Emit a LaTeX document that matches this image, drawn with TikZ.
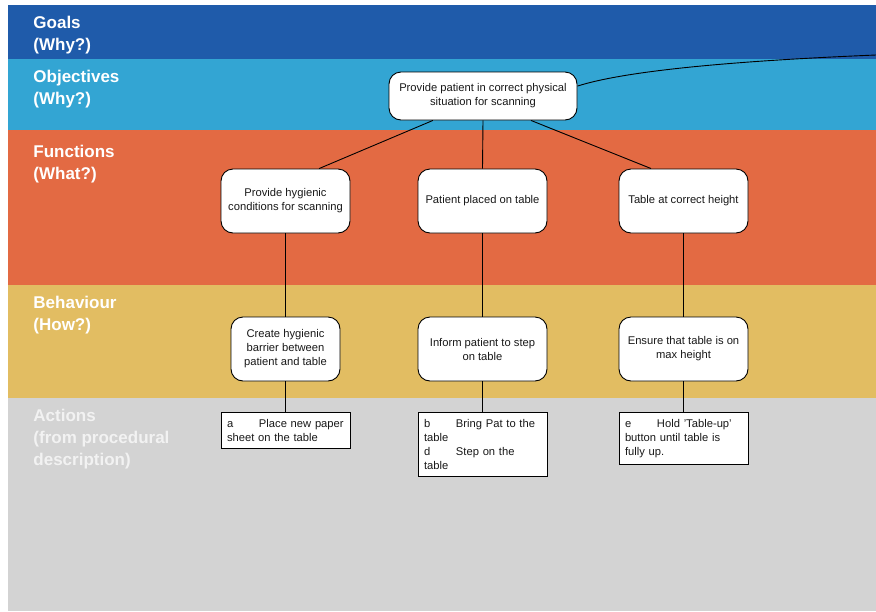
\documentclass[tikz,border=0pt]{standalone}
\usepackage{fontspec}
\setmainfont{Liberation Sans}
\usetikzlibrary{positioning}

\definecolor{goalblue}{HTML}{1F5BAA}
\definecolor{objblue}{HTML}{33A5D3}
\definecolor{funcorange}{HTML}{E36A43}
\definecolor{behavyellow}{HTML}{E2BD62}
\definecolor{actgrey}{HTML}{D3D3D3}

\newcommand{\acttab}[1]{\makebox[32pt][l]{#1}}

\tikzset{
  band/.style={anchor=north west, align=left, text=white, inner sep=0pt,
    font=\bfseries\fontsize{17}{22}\selectfont},
  box/.style={draw=black, fill=white, rounded corners=12pt, align=center,
    inner sep=2pt, text=black!90, font=\fontsize{11.2}{14}\selectfont},
  fwide/.style={minimum width=129pt, minimum height=64pt},
  act/.style={draw=black, fill=white, anchor=north, align=left, text width=117pt,
    inner xsep=6pt, inner ysep=7pt, text=black!90, font=\fontsize{11.2}{14}\selectfont},
}

\begin{document}
\begin{tikzpicture}[x=1pt,y=-1pt,line width=0.9pt]
\useasboundingbox (0,0) rectangle (876,611);

% Bands
\fill[goalblue] (8,5) rectangle (876,59);
\fill[objblue] (8,59) rectangle (876,130);
\fill[funcorange] (8,130) rectangle (876,285);
\fill[behavyellow] (8,285) rectangle (876,398);
\fill[actgrey] (8,398) rectangle (876,611);

% Band labels
\node[band] (lgoals) at (33,16) {Goals\\(Why?)};
\node[band] (lobj) at (33,70) {Objectives\\(Why?)};
\node[band] (lfunc) at (33,145) {Functions\\(What?)};
\node[band] (lbehav) at (33,296) {Behaviour\\(How?)};
\node[band, text=white!95!black] (lact) at (33,409) {Actions\\(from procedural\\description)};

% Objective
\node[box, minimum width=188pt, minimum height=48pt] (obj) at (483,96)
  {Provide patient in correct physical\\situation for scanning};

% Functions
\node[box, fwide] (fhyg) at (285.5,201) {Provide hygienic\\conditions for scanning};
\node[box, fwide] (fplace) at (482.5,201) {Patient placed on table};
\node[box, fwide] (fheight) at (683.5,201) {Table at correct height};

% Behaviour
\node[box, minimum width=109pt, minimum height=64pt] (bbarrier) at (285.5,349)
  {Create hygienic\\barrier between\\patient and table};
\node[box, fwide] (binform) at (482.5,349) {Inform patient to step\\on table};
\node[box, fwide] (bensure) at (683.5,349) {Ensure that table is on\\max height};

% Actions
\node[act] (apaper) at (285.5,412) {\acttab{a}Place new paper\\sheet on the table};
\node[act] (astep) at (482.5,412) {\acttab{b}Bring Pat to the\\table\\\acttab{d}Step on the\\table};
\node[act] (ahold) at (683.5,412) {\acttab{e}Hold 'Table-up'\\button until table is\\fully up.};

% Links to the goals band
\coordinate (goalend) at (876,55);
\draw (obj.6) .. controls (625,71) and (730,61) .. (goalend);

% Objective to functions
\draw (obj.206.6) -- (fhyg.44.5);
\draw (obj.south) -- (fplace.north);
\draw (obj.333.4) -- (fheight.135.5);

% Functions to behaviour
\draw (fhyg.south) -- (bbarrier.north);
\draw (fplace.south) -- (binform.north);
\draw (fheight.south) -- (bensure.north);

% Behaviour to actions
\draw (bbarrier.south) -- (apaper.north);
\draw (binform.south) -- (astep.north);
\draw (bensure.south) -- (ahold.north);

\end{tikzpicture}
\end{document}
